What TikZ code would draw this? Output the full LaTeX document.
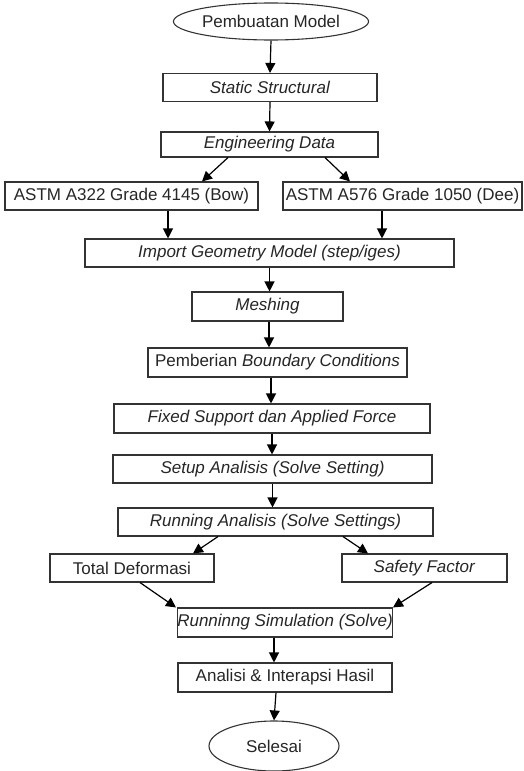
\documentclass[tikz,border=0pt]{standalone}
\usepackage{fontspec}
\setmainfont{Liberation Sans}
\usetikzlibrary{arrows.meta,shapes.geometric}

\begin{document}
\begin{tikzpicture}[scale=1.000000,x=1pt,y=1pt,
  kotak/.style={draw=black!80,line width=1.1pt,minimum height=28pt,inner sep=0pt,
    font=\fontsize{17}{20}\selectfont,text=black!85},
  bulat/.style={kotak,ellipse},
  panah/.style={draw=black,line width=1.2pt,-{Triangle[length=10pt,width=10pt]}}]
\useasboundingbox (0.000000,0.000000) rectangle (524.000000,-771.000000);
\fill[color=white] (0.000000,0.000000) rectangle (524.000000,-771.000000);
% Drawing blocks
% Line 1: start
\node[bulat,minimum width=152pt,minimum height=37pt] (model) at (271.000000,-21.500000) {Pembuatan Model};
% Line 2: ansys setup
\node[kotak,minimum width=214pt] (static) at (270.000000,-87.500000) {\textit{Static Structural}};
\node[kotak,minimum width=217pt,minimum height=25pt] (engdata) at (269.500000,-144.500000) {\textit{Engineering Data}};
% Line 3: material
\node[kotak,minimum width=253pt] (bow) at (131.500000,-196.000000) {ASTM A322 Grade 4145 (Bow)};
\node[kotak,minimum width=239pt] (dee) at (402.500000,-196.000000) {ASTM A576 Grade 1050 (Dee)};
% Line 4: geometry and mesh
\node[kotak,minimum width=369pt] (geom) at (269.500000,-253.000000) {\textit{Import Geometry Model (step/iges)}};
\node[kotak,minimum width=151pt,minimum height=29pt] (mesh) at (267.500000,-306.500000) {\textit{Meshing}};
% Line 5: boundary conditions
\node[kotak,minimum width=259pt,minimum height=29pt] (bc) at (277.500000,-362.500000) {Pemberian \textit{Boundary Conditions}};
\node[kotak,minimum width=316pt,minimum height=29pt] (fixed) at (272.000000,-418.500000) {\textit{Fixed Support dan Applied Force}};
% Line 6: analysis
\node[kotak,minimum width=319pt] (setup) at (272.500000,-469.000000) {\textit{Setup Analisis (Solve Setting)}};
\node[kotak,minimum width=315pt] (run) at (275.500000,-522.000000) {\textit{Running Analisis (Solve Settings)}};
% Line 7: results
\node[kotak,minimum width=164pt] (deform) at (132.000000,-568.000000) {Total Deformasi};
\node[kotak,minimum width=165pt] (safety) at (424.500000,-568.000000) {\textit{Safety Factor}};
% Line 8: solve and end
\node[kotak,minimum width=214pt,minimum height=29pt] (simul) at (285.000000,-622.500000) {\textit{Runninng Simulation (Solve)}};
\node[kotak,minimum width=214pt,minimum height=29pt] (hasil) at (285.000000,-677.500000) {Analisi \& Interapsi Hasil};
\node[bulat,minimum width=130pt,minimum height=50pt] (selesai) at (274.000000,-746.000000) {Selesai};
% Done with blocks; drawing arrows
\draw[panah] (model.south) -- (static.north);
\draw[panah] (static.south) -- (engdata.north);
\draw[panah] ([xshift=-41.5pt]engdata.south) -- ([xshift=70.5pt]bow.north);
\draw[panah] ([xshift=55.5pt]engdata.south) -- ([xshift=-52.5pt]dee.north);
\draw[panah] ([xshift=36.5pt]bow.south) -- ([xshift=36.5pt]bow.south |- geom.north);
\draw[panah] ([xshift=-20.5pt]dee.south) -- ([xshift=-20.5pt]dee.south |- geom.north);
\draw[panah] (geom.south) -- (geom.south |- mesh.north);
\draw[panah] ([xshift=1.5pt]mesh.south) -- ([xshift=1.5pt]mesh.south |- bc.north);
\draw[panah] ([xshift=-6.5pt]bc.south) -- ([xshift=-6.5pt]bc.south |- fixed.north);
\draw[panah] (fixed.south) -- (fixed.south |- setup.north);
\draw[panah] (setup.south) -- (setup.south |- run.north);
\draw[panah] ([xshift=-57.5pt]run.south) -- ([xshift=61pt]deform.north);
\draw[panah] ([xshift=67.5pt]run.south) -- ([xshift=-56.5pt]safety.north);
\draw[panah] ([xshift=8pt]deform.south) -- ([xshift=-109pt]simul.north);
\draw[panah] ([xshift=7.5pt]safety.south) -- ([xshift=108pt]simul.north);
\draw[panah] ([xshift=-11pt]simul.south) -- ([xshift=-11pt]simul.south |- hasil.north);
\draw[panah] ([xshift=-9pt]hasil.south) -- (selesai.north);
% Done with arrows
\end{tikzpicture}
\end{document}
